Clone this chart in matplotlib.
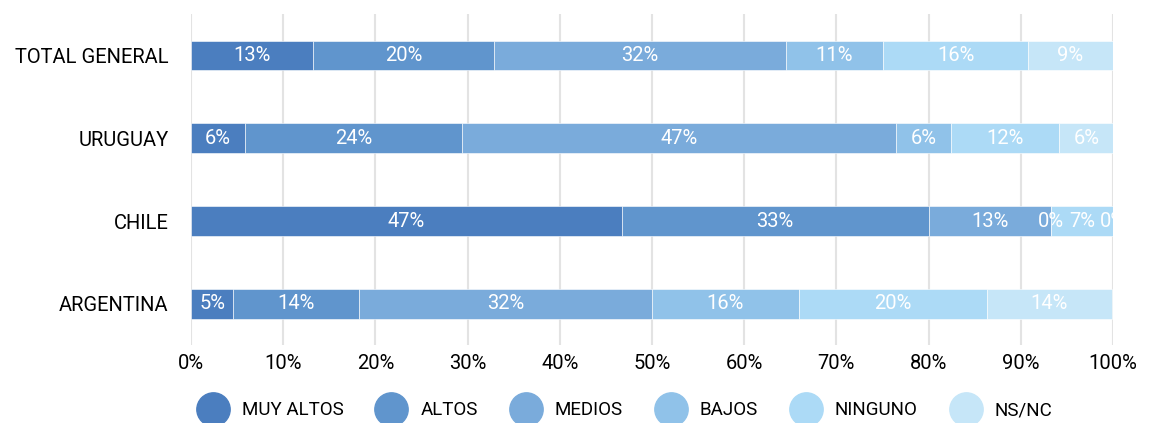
import matplotlib.pyplot as plt
from matplotlib.lines import Line2D

plt.rcParams['font.family'] = ['Roboto', 'DejaVu Sans']

# Datos (porcentajes)
paises = ["TOTAL GENERAL", "URUGUAY", "CHILE", "ARGENTINA"]
niveles = ["MUY ALTOS", "ALTOS", "MEDIOS", "BAJOS", "NINGUNO", "NS/NC"]
muy_altos = [13.2, 5.9, 46.7, 4.6]
altos = [19.7, 23.5, 33.3, 13.6]
medios = [31.6, 47.1, 13.3, 31.8]
bajos = [10.6, 5.9, 0.0, 15.9]
ninguno = [15.7, 11.8, 6.7, 20.4]
ns_nc = [9.2, 5.9, 0.0, 13.6]

series = [muy_altos, altos, medios, bajos, ninguno, ns_nc]
colores = ["#4b7ebf", "#6095cd", "#7aabdb", "#90c2e9", "#acdaf6", "#c6e6f8"]

fig = plt.figure(figsize=(11.52, 4.23), dpi=100)
ax = fig.add_axes([0.1658, 0.184, 0.8003, 0.7825])

y = list(range(len(paises)))
izquierda = [0.0] * len(paises)
for nombre, valores, color in zip(niveles, series, colores):
    ax.barh(y, valores, left=izquierda, height=0.36, color=color,
            edgecolor="#ffffff", linewidth=0.4, zorder=2)
    for i, v in enumerate(valores):
        ax.text(izquierda[i] + v / 2, y[i], f"{v:.0f}%", ha="center", va="center",
                color="white", fontsize=14.5, clip_on=True, zorder=3)
    izquierda = [a + b for a, b in zip(izquierda, valores)]

ax.set_xlim(0, 100)
ax.set_ylim(3.5, -0.5)
ax.set_yticks(y)
ax.set_yticklabels(paises, fontsize=14.5)
ax.set_xticks(range(0, 101, 10))
ax.set_xticklabels([f"{t}%" for t in range(0, 101, 10)], fontsize=14.5)
ax.tick_params(length=0)
ax.tick_params(axis="x", pad=6)
ax.tick_params(axis="y", pad=16)
ax.grid(axis="x", color="#e3e3e3", linewidth=1.5, zorder=0)
ax.set_axisbelow(True)
for s in ax.spines.values():
    s.set_visible(False)

handles = [Line2D([], [], marker="o", linestyle="", markersize=24,
                  markerfacecolor=c, markeredgecolor=c) for c in colores]
fig.legend(handles, niveles, loc="center", bbox_to_anchor=(0.541, 0.03), ncol=6,
           frameon=False, fontsize=13.5, handletextpad=0.55, columnspacing=1.55)

fig.savefig("out.png", dpi=100)
